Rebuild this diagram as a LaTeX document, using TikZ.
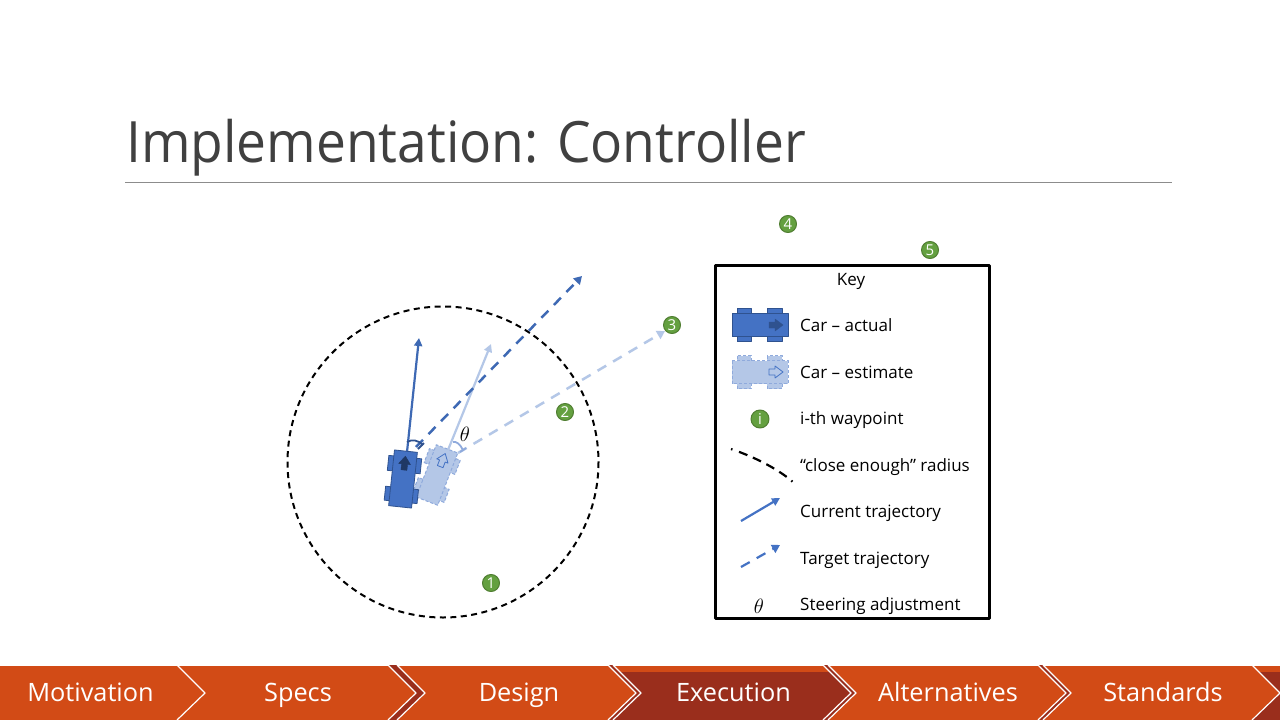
\documentclass[tikz,border=0pt]{standalone}
\usepackage{fontspec}
\usepackage{amsmath}
\setmainfont{Open Sans}
\newfontfamily\titlefont[FakeStretch=.935]{Open Sans}
\usetikzlibrary{arrows.meta}
\definecolor{ink}{HTML}{000000}
\definecolor{titlegrey}{HTML}{404040}
\definecolor{rulegrey}{HTML}{8C8C8C}
\definecolor{carblue}{HTML}{4472C4}
\definecolor{mapblue}{HTML}{3E69B4}
\definecolor{carline}{HTML}{2F528F}
\definecolor{cardark}{HTML}{1F3864}
\definecolor{estblue}{HTML}{B4C7E7}
\definecolor{estline}{HTML}{8FAADC}
\definecolor{waygreen}{HTML}{64A040}
\definecolor{waydark}{HTML}{507E32}
\definecolor{barorange}{HTML}{D24B16}
\definecolor{bardark}{HTML}{9A2E1C}
\tikzset{
  every picture/.style = {line join=round},
  keytext/.style  = {anchor=base west, inner sep=0pt, font=\fontsize{17}{20}\selectfont, text=ink},
  waypt/.style    = {circle, fill=waygreen, draw=waydark, line width=1pt, minimum size=17pt, inner sep=0pt,
                     text=white, font=\fontsize{15}{15}\selectfont},
  curtraj/.style  = {line width=2.2pt, -{Triangle[length=8pt,width=8pt]}},
  tgttraj/.style  = {line width=2.5pt, dash pattern=on 10pt off 8pt, -{Triangle[length=8pt,width=9pt]}},
  tablabel/.style = {anchor=base, inner sep=0pt, font=\fontsize{25.3}{28}\selectfont, text=white},
  carbody/.style  = {fill=carblue, draw=carline, line width=.8pt},
  estbody/.style  = {fill=estblue, draw=estline, line width=1pt, dash pattern=on 3pt off 2pt},
}
% a car pointing along +x, centred on the origin of its scope
\newcommand{\carshape}[2]{%
  \draw[#1] (-23,-16.5) rectangle (-9,16.5);
  \draw[#1] (7,-16.5) rectangle (22,16.5);
  \draw[#1] (-28,-11.5) rectangle (28,11.5);
  \draw[#2] (9,-3) -- (15,-3) -- (15,-6) -- (23,0) -- (15,6) -- (15,3) -- (9,3) -- cycle;
}
\begin{document}
\begin{tikzpicture}[x=1pt, y=-1pt]
  \useasboundingbox (0,0) rectangle (1280,720);
  \fill[white] (0,0) rectangle (1280,720);

  % heading
  \node[anchor=base west, inner sep=0pt, text=titlegrey, font=\titlefont\fontsize{57}{60}\selectfont] (title) at (126,162) {Implementation: Controller};
  \coordinate (ruleL) at (125,182.5);
  \coordinate (ruleR) at (1172,182.5);
  \draw[rulegrey, line width=.8pt] (ruleL) -- (ruleR);

  % close enough circle
  \draw[ink, line width=2pt, dash pattern=on 6pt off 4.5pt] (443,462) circle (155.5);

  % target and current trajectories
  \coordinate (estTgtA) at (458,453);
  \coordinate (estTgtB) at (665,331);
  \coordinate (carTgtA) at (416,447);
  \coordinate (carTgtB) at (582,276);
  \coordinate (carCurA) at (407,452);
  \coordinate (carCurB) at (419,338);
  \coordinate (estCurA) at (448,450);
  \coordinate (estCurB) at (491,344);
  \draw[tgttraj, estblue] (estTgtA) -- (estTgtB);
  \draw[curtraj, estblue] (estCurA) -- (estCurB);
  \draw[tgttraj, mapblue] (carTgtA) -- (carTgtB);
  \draw[curtraj, mapblue] (carCurA) -- (carCurB);

  % cars
  \begin{scope}[shift={(437,475)}, rotate=69]
    \carshape{estbody}{fill=estblue, draw=carblue, line width=.8pt}
  \end{scope}
  \begin{scope}[shift={(403,479)}, rotate=84]
    \carshape{carbody}{fill=cardark, draw=cardark}
  \end{scope}

  % steering angles
  \draw[carline, line width=1.8pt] (407,442) .. controls (412,439) and (418,440) .. (423,445);
  \draw[carline, line width=1.8pt] (418,449) -- (424,443);
  \draw[estline, line width=1.8pt] (453,442) .. controls (456,441) and (460,444) .. (463,450);
  \draw[estline, line width=1.8pt] (460,452) -- (466,448);
  \node[font=\fontsize{21}{22}\selectfont, text=ink] (thetaMap) at (465,434) {$\theta$};

  % waypoints
  \node[waypt] (wOne) at (491,583) {1};
  \node[waypt] (wTwo) at (565,412) {2};
  \node[waypt] (wThree) at (672,325) {3};
  \node[waypt] (wFour) at (788,224) {4};
  \node[waypt] (wFive) at (930,250) {5};

  % key
  \draw[ink, line width=3pt] (715,265) rectangle (989,618);
  \node[anchor=base, inner sep=0pt, font=\fontsize{17}{20}\selectfont] (keyT) at (851,285) {Key};
  \begin{scope}[shift={(760,325)}]
    \carshape{carbody}{fill=carline, draw=carline}
  \end{scope}
  \begin{scope}[shift={(760,372)}]
    \carshape{estbody}{fill=estblue, draw=carblue, line width=.8pt}
  \end{scope}
  \node[waypt, minimum size=18pt] (wKey) at (760,419) {i};
  \draw[ink, line width=2.2pt, dash pattern=on 1.5pt off 7pt on 9pt off 6pt on 9pt off 6pt on 9pt off 6pt on 9pt off 6pt] (731,449) .. controls (755,457) and (780,470) .. (794,483);
  \coordinate (curA) at (741,521);
  \coordinate (curB) at (780,498);
  \coordinate (tgtA) at (741,567);
  \coordinate (tgtB) at (780,545);
  \draw[curtraj, carblue] (curA) -- (curB);
  \draw[tgttraj, carblue, line width=2.2pt] (tgtA) -- (tgtB);
  \node[font=\fontsize{21}{22}\selectfont] (thetaKey) at (759,606) {$\theta$};
  \node[keytext] (lActual) at (800,331) {Car -- actual};
  \node[keytext] (lEst) at (800,378) {Car -- estimate};
  \node[keytext] (lWay) at (800,424.5) {i-th waypoint};
  \node[keytext] (lClose) at (800,471) {``close enough'' radius};
  \node[keytext] (lCur) at (800,517.5) {Current trajectory};
  \node[keytext] (lTgt) at (800,564) {Target trajectory};
  \node[keytext] (lSteer) at (800,610.5) {Steering adjustment};

  % navigation bar
  \fill[barorange] (0,666) rectangle (1280,720);
  \fill[bardark] (620,672) -- (830,672) -- (851,693) -- (823,720) -- (613,720) -- (641,693) -- cycle;
  \fill[bardark] (1259,672) -- (1280,672) -- (1280,693) -- cycle;
  \fill[bardark] (1280,693) -- (1280,720) -- (1252,720) -- cycle;
  \foreach \xa/\xb in {388/397,608/613,823/828,1038/1043}{
    \fill[bardark] (\xa,665) -- (\xb,665) -- (\xb+28,693) -- (\xb,720) -- (\xa,720) -- (\xa+28,693) -- cycle;
    \draw[white, line width=1.2pt] (\xa,665) -- (\xa+28,693) -- (\xa,720);
    \draw[white, line width=1.2pt] (\xb,665) -- (\xb+28,693) -- (\xb,720);
  }
  \foreach \xa in {177,1252}{
    \draw[white, line width=1.2pt] (\xa,665) -- (\xa+28,693) -- (\xa,720);
  }
  \foreach \xm/\lab in {90.5/Motivation,298/Specs,519/Design,733.5/Execution,948/Alternatives,1163/Standards}{
    \node[tablabel] (tab\lab) at (\xm,701) {\lab};
  }
\end{tikzpicture}
\end{document}
